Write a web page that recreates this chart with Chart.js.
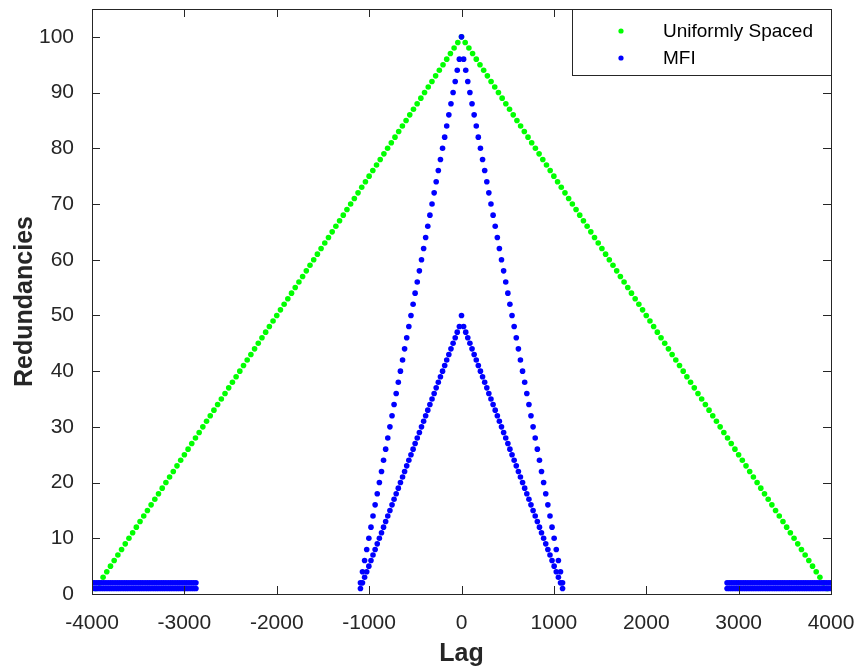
<!DOCTYPE html>
<html>
<head>
<meta charset="utf-8">
<script src="https://cdn.jsdelivr.net/npm/chart.js@4/dist/chart.umd.min.js"></script>
<style>
  html, body { margin: 0; padding: 0; background: #fff; }
</style>
</head>
<body>
<canvas id="redChart" width="858" height="671"></canvas>
<script>
// tick labels
const xTicks = [-4000, -3000, -2000, -1000, 0, 1000, 2000, 3000, 4000];
const yTicks = [0, 10, 20, 30, 40, 50, 60, 70, 80, 90, 100];

// uniformly spaced array: lag / redundancy pairs
const uniformLag = [
  -3960, -3920, -3880, -3840, -3800, -3760, -3720, -3680, -3640, -3600,
  -3560, -3520, -3480, -3440, -3400, -3360, -3320, -3280, -3240, -3200,
  -3160, -3120, -3080, -3040, -3000, -2960, -2920, -2880, -2840, -2800,
  -2760, -2720, -2680, -2640, -2600, -2560, -2520, -2480, -2440, -2400,
  -2360, -2320, -2280, -2240, -2200, -2160, -2120, -2080, -2040, -2000,
  -1960, -1920, -1880, -1840, -1800, -1760, -1720, -1680, -1640, -1600,
  -1560, -1520, -1480, -1440, -1400, -1360, -1320, -1280, -1240, -1200,
  -1160, -1120, -1080, -1040, -1000, -960, -920, -880, -840, -800,
  -760, -720, -680, -640, -600, -560, -520, -480, -440, -400,
  -360, -320, -280, -240, -200, -160, -120, -80, -40, 0,
  40, 80, 120, 160, 200, 240, 280, 320, 360,
  400, 440, 480, 520, 560, 600, 640, 680, 720, 760,
  800, 840, 880, 920, 960, 1000, 1040, 1080, 1120, 1160,
  1200, 1240, 1280, 1320, 1360, 1400, 1440, 1480, 1520, 1560,
  1600, 1640, 1680, 1720, 1760, 1800, 1840, 1880, 1920, 1960,
  2000, 2040, 2080, 2120, 2160, 2200, 2240, 2280, 2320, 2360,
  2400, 2440, 2480, 2520, 2560, 2600, 2640, 2680, 2720, 2760,
  2800, 2840, 2880, 2920, 2960, 3000, 3040, 3080, 3120, 3160,
  3200, 3240, 3280, 3320, 3360, 3400, 3440, 3480, 3520, 3560,
  3600, 3640, 3680, 3720, 3760, 3800, 3840, 3880, 3920, 3960
];
const uniformRed = [
  1, 2, 3, 4, 5, 6, 7, 8, 9, 10,
  11, 12, 13, 14, 15, 16, 17, 18, 19, 20,
  21, 22, 23, 24, 25, 26, 27, 28, 29, 30,
  31, 32, 33, 34, 35, 36, 37, 38, 39, 40,
  41, 42, 43, 44, 45, 46, 47, 48, 49, 50,
  51, 52, 53, 54, 55, 56, 57, 58, 59, 60,
  61, 62, 63, 64, 65, 66, 67, 68, 69, 70,
  71, 72, 73, 74, 75, 76, 77, 78, 79, 80,
  81, 82, 83, 84, 85, 86, 87, 88, 89, 90,
  91, 92, 93, 94, 95, 96, 97, 98, 99, 100,
  99, 98, 97, 96, 95, 94, 93, 92, 91,
  90, 89, 88, 87, 86, 85, 84, 83, 82, 81,
  80, 79, 78, 77, 76, 75, 74, 73, 72, 71,
  70, 69, 68, 67, 66, 65, 64, 63, 62, 61,
  60, 59, 58, 57, 56, 55, 54, 53, 52, 51,
  50, 49, 48, 47, 46, 45, 44, 43, 42, 41,
  40, 39, 38, 37, 36, 35, 34, 33, 32, 31,
  30, 29, 28, 27, 26, 25, 24, 23, 22, 21,
  20, 19, 18, 17, 16, 15, 14, 13, 12, 11,
  10, 9, 8, 7, 6, 5, 4, 3, 2, 1
];

// MFI array: central lags with two redundancy levels (outer and inner triangle)
const mfiLag = [
  -1094, -1072, -1049, -1026, -1003, -980, -958, -935, -912, -889,
  -866, -844, -821, -798, -775, -752, -730, -707, -684, -661,
  -638, -616, -593, -570, -547, -524, -502, -479, -456, -433,
  -410, -388, -365, -342, -319, -296, -274, -251, -228, -205,
  -182, -160, -137, -114, -91, -68, -46, -23, 0,
  23, 46, 68, 91, 114, 137, 160, 182, 205, 228,
  251, 274, 296, 319, 342, 365, 388, 410, 433, 456,
  479, 502, 524, 547, 570, 593, 616, 638, 661, 684,
  707, 730, 752, 775, 798, 821, 844, 866, 889, 912,
  935, 958, 980, 1003, 1026, 1049, 1072, 1094
];
const mfiOuterRed = [
  2, 4, 6, 8, 10, 12, 14, 16, 18, 20,
  22, 24, 26, 28, 30, 32, 34, 36, 38, 40,
  42, 44, 46, 48, 50, 52, 54, 56, 58, 60,
  62, 64, 66, 68, 70, 72, 74, 76, 78, 80,
  82, 84, 86, 88, 90, 92, 94, 96, 100,
  96, 94, 92, 90, 88, 86, 84, 82, 80, 78,
  76, 74, 72, 70, 68, 66, 64, 62, 60, 58,
  56, 54, 52, 50, 48, 46, 44, 42, 40, 38,
  36, 34, 32, 30, 28, 26, 24, 22, 20, 18,
  16, 14, 12, 10, 8, 6, 4, 2
];
const mfiInnerRed = [
  1, 2, 3, 4, 5, 6, 7, 8, 9, 10,
  11, 12, 13, 14, 15, 16, 17, 18, 19, 20,
  21, 22, 23, 24, 25, 26, 27, 28, 29, 30,
  31, 32, 33, 34, 35, 36, 37, 38, 39, 40,
  41, 42, 43, 44, 45, 46, 47, 48, 50,
  48, 47, 46, 45, 44, 43, 42, 41, 40, 39,
  38, 37, 36, 35, 34, 33, 32, 31, 30, 29,
  28, 27, 26, 25, 24, 23, 22, 21, 20, 19,
  18, 17, 16, 15, 14, 13, 12, 11, 10, 9,
  8, 7, 6, 5, 4, 3, 2, 1
];
// MFI large lags sitting at redundancy 1 and 2
const mfiBandLag = [
  -4000, -3975, -3950, -3925, -3900, -3875, -3850, -3825, -3800, -3775,
  -3750, -3725, -3700, -3675, -3650, -3625, -3600, -3575, -3550, -3525,
  -3500, -3475, -3450, -3425, -3400, -3375, -3350, -3325, -3300, -3275,
  -3250, -3225, -3200, -3175, -3150, -3125, -3100, -3075, -3050, -3025,
  -3000, -2975, -2950, -2925, -2900, -2875,
  2875, 2900, 2925, 2950, 2975, 3000, 3025, 3050, 3075, 3100,
  3125, 3150, 3175, 3200, 3225, 3250, 3275, 3300, 3325, 3350,
  3375, 3400, 3425, 3450, 3475, 3500, 3525, 3550, 3575, 3600,
  3625, 3650, 3675, 3700, 3725, 3750, 3775, 3800, 3825, 3850,
  3875, 3900, 3925, 3950, 3975, 4000
];
const mfiBandLevels = [1, 2];

const axisColor = "#262626";
const fontFamily = "'Liberation Sans', Arial, Helvetica, sans-serif";

const uniformPoints = uniformLag.map((x, i) => ({ x: x, y: uniformRed[i] }));
const mfiPoints = [];
mfiLag.forEach((x, i) => {
  mfiPoints.push({ x: x, y: mfiOuterRed[i] });
  mfiPoints.push({ x: x, y: mfiInnerRed[i] });
});
mfiBandLevels.forEach(level => {
  mfiBandLag.forEach(x => mfiPoints.push({ x: x, y: level }));
});

// box, inward ticks and legend like a matlab axes
const matlabAxes = {
  id: "matlabAxes",
  afterDatasetsDraw(chart) {
    const { ctx, chartArea: a, scales } = chart;
    const len = 8;
    ctx.save();
    ctx.strokeStyle = axisColor;
    ctx.lineWidth = 1;
    ctx.beginPath();
    scales.x.ticks.forEach(t => {
      const px = Math.round(scales.x.getPixelForValue(t.value)) + 0.5;
      ctx.moveTo(px, a.bottom); ctx.lineTo(px, a.bottom - len);
      ctx.moveTo(px, a.top); ctx.lineTo(px, a.top + len);
    });
    scales.y.ticks.forEach(t => {
      const py = Math.round(scales.y.getPixelForValue(t.value)) + 0.5;
      ctx.moveTo(a.left, py); ctx.lineTo(a.left + len, py);
      ctx.moveTo(a.right, py); ctx.lineTo(a.right - len, py);
    });
    ctx.stroke();
    ctx.strokeRect(a.left + 0.5, a.top + 0.5, a.right - a.left, a.bottom - a.top);

    // legend
    const lx = 572.5, ly = 9.5, lw = a.right - 572, lh = 66;
    ctx.fillStyle = "#fff";
    ctx.fillRect(lx, ly, lw, lh);
    ctx.strokeRect(lx, ly, lw, lh);
    const rows = [chart.data.datasets[0], chart.data.datasets[1]];
    ctx.font = "19px " + fontFamily;
    ctx.textBaseline = "middle";
    rows.forEach((ds, i) => {
      const cy = 31 + i * 27;
      ctx.fillStyle = ds.backgroundColor;
      ctx.beginPath();
      ctx.arc(621, cy, 2.6, 0, Math.PI * 2);
      ctx.fill();
      ctx.fillStyle = "#000";
      ctx.fillText(ds.label, 663, cy + 1);
    });
    ctx.restore();
  }
};

new Chart(document.getElementById("redChart"), {
  type: "scatter",
  data: {
    datasets: [
      {
        label: "Uniformly Spaced",
        data: uniformPoints,
        backgroundColor: "#00ff00",
        pointRadius: 2.8,
        pointBorderWidth: 0,
        order: 2
      },
      {
        label: "MFI",
        data: mfiPoints,
        backgroundColor: "#0000ff",
        pointRadius: 2.8,
        pointBorderWidth: 0,
        order: 1
      }
    ]
  },
  options: {
    responsive: false,
    animation: false,
    events: [],
    layout: { padding: { left: 0, top: 9, right: 27, bottom: 0 } },
    plugins: {
      legend: { display: false },
      tooltip: { enabled: false }
    },
    scales: {
      x: {
        type: "linear",
        min: -4000,
        max: 4000,
        afterBuildTicks: s => { s.ticks = xTicks.map(v => ({ value: v })); },
        afterFit: s => {
          s.height = 77;
          s.paddingLeft = 0; s.paddingRight = 0;
        },
        grid: { display: false },
        border: { display: false },
        ticks: {
          color: axisColor,
          padding: 9,
          maxRotation: 0,
          autoSkip: false,
          callback: v => String(v),
          font: { family: fontFamily, size: 21 }
        },
        title: {
          display: true,
          text: "Lag",
          color: axisColor,
          padding: { top: 0, bottom: 2 },
          font: { family: fontFamily, size: 25, weight: "bold" }
        }
      },
      y: {
        min: 0,
        max: 105,
        afterBuildTicks: s => { s.ticks = yTicks.map(v => ({ value: v })); },
        afterFit: s => {
          s.width = 92;
          s.paddingTop = 0; s.paddingBottom = 0;
        },
        grid: { display: false },
        border: { display: false },
        ticks: {
          color: axisColor,
          padding: 10,
          autoSkip: false,
          callback: v => String(v),
          font: { family: fontFamily, size: 21 }
        },
        title: {
          display: true,
          text: "Redundancies",
          color: axisColor,
          padding: { top: 10, bottom: 0 },
          font: { family: fontFamily, size: 25, weight: "bold" }
        }
      }
    }
  },
  plugins: [matlabAxes]
});
</script>
</body>
</html>
